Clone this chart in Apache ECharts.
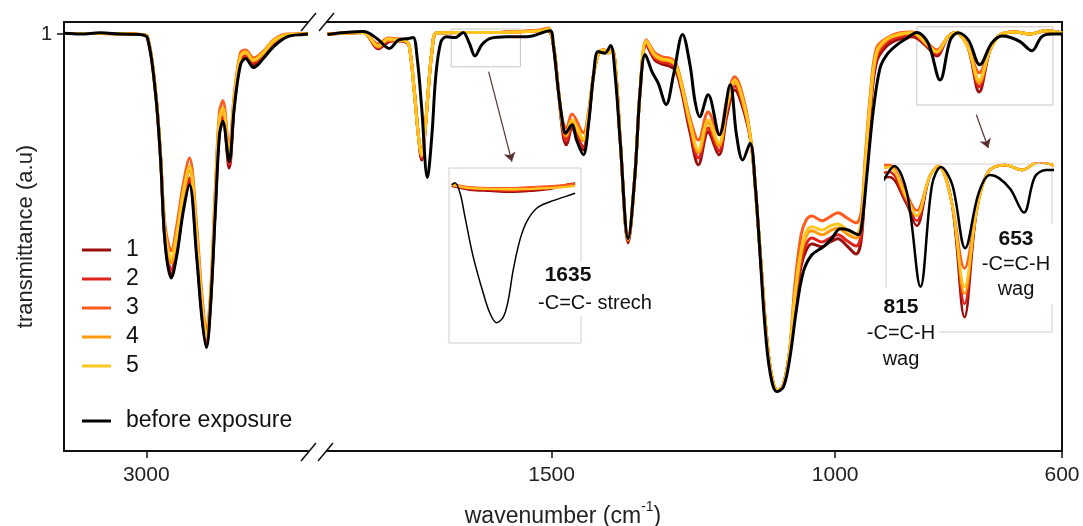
<!DOCTYPE html>
<html><head><meta charset="utf-8">
<script src="https://cdn.jsdelivr.net/npm/echarts@6/dist/echarts.min.js"></script>
<style>html,body{margin:0;padding:0;background:#fff}#c{width:1083px;height:526px}</style>
</head><body><div id="c"></div>
<script>
// ---------- DATA ----------
const seriesNames = ['1','2','3','4','5','before exposure'];
const seriesColors = ['#9a0e0e','#e0241b','#ff5b1c','#ff9a0a','#ffc61e','#000000'];
const xTicksLeft = [3000];
const xTicksRight = [1500, 1000, 600];
const yTicks = [1];

// left panel (C-H stretch region), exposed samples share wavenumbers
const wnColL = [3145,3081,3011,2998,2984,2975,2967,2956,2946,2935,2924,2911,2902,2894,2887,2878,2871,2865,2854,2845,2834,2825,2811,2793,2776,2752,2723,2715];
const t1L = [1.001,1.001,.999,.993,.86,.698,.483,.398,.455,.565,.63,.45,.298,.223,.32,.578,.758,.785,.665,.82,.93,.94,.923,.943,.97,.995,1.0,1.0];
const t2L = [1.001,1.001,.999,.993,.86,.698,.49,.41,.468,.575,.64,.463,.308,.228,.325,.585,.768,.793,.675,.828,.935,.945,.928,.948,.975,.995,1.0,1.0];
const t3L = [1.001,1.001,.999,.993,.86,.698,.523,.458,.523,.623,.69,.515,.348,.258,.348,.623,.805,.833,.715,.848,.953,.96,.94,.958,.985,1.0,1.0,1.0];
const t4L = [1.001,1.001,.999,.993,.86,.698,.5,.428,.49,.593,.658,.485,.323,.24,.333,.598,.783,.808,.693,.835,.943,.953,.933,.953,.98,.998,1.0,1.0];
const t5L = [1.001,1.001,.999,.993,.86,.698,.508,.44,.503,.603,.67,.495,.33,.245,.338,.605,.79,.815,.703,.84,.945,.955,.935,.955,.983,.998,1.0,1.0];
const wnBkL = [3145,3116,3081,3046,3011,2998,2984,2975,2967,2956,2946,2935,2924,2911,2902,2894,2887,2878,2871,2865,2854,2845,2834,2825,2811,2793,2776,2752,2723,2715];
const tBkL = [1.002,1.0,1.003,1.0,.999,.99,.855,.69,.48,.39,.448,.555,.623,.44,.29,.216,.315,.565,.748,.781,.681,.815,.923,.939,.916,.94,.968,.993,.999,1.0];

// right panel (1895-600 cm-1)
const wnColR = [1895,1832,1806,1788,1772,1758,1751,1742,1735,1729,1723,1718,1711,1702,1661,1591,1520,1506,1497,1488,1480,1474,1464,1444,1435,1426,1416,1407,1400,1393,1386,1379,1365,1353,1344,1333,1318,1305,1293,1282,1272,1256,1241,1224,1205,1191,1177,1159,1147,1138,1131,1122,1113,1102,1092,1081,1071,1060,1051,1041,1023,1009,995,979,963,954,947,938,927,909,886,864,838,821,801,787,766,746,727,709,683,656,630,600];
const t1R = [1.0,1.004,.963,.98,.983,.98,.97,.855,.748,.685,.76,.848,.955,1.003,1.004,1.004,1.008,1.008,.975,.86,.75,.723,.763,.71,.78,.898,.955,.96,.953,.96,.89,.735,.478,.648,.855,.973,.935,.925,.92,.91,.865,.755,.673,.755,.698,.795,.86,.798,.715,.565,.43,.26,.153,.108,.12,.198,.32,.42,.46,.475,.468,.48,.488,.47,.45,.485,.635,.805,.93,.97,.988,.993,.968,.945,.993,1.004,.968,.855,.96,.998,1.005,1.0,1.008,1.003];
const t2R = [1.0,1.004,.965,.983,.983,.98,.97,.855,.748,.69,.76,.848,.955,1.003,1.004,1.004,1.008,1.01,.975,.86,.758,.733,.77,.718,.785,.898,.955,.96,.953,.96,.89,.735,.483,.648,.855,.975,.94,.93,.928,.918,.873,.765,.69,.765,.708,.805,.87,.805,.715,.565,.43,.26,.153,.108,.12,.198,.33,.43,.475,.49,.48,.49,.498,.483,.47,.498,.648,.815,.94,.978,.993,.998,.97,.95,.993,1.004,.968,.868,.96,.998,1.005,1.0,1.008,1.003];
const t3R = [1.0,1.005,.975,.99,.988,.985,.97,.86,.748,.705,.76,.848,.955,1.003,1.004,1.004,1.01,1.015,.975,.86,.78,.765,.8,.753,.805,.898,.955,.96,.953,.96,.89,.735,.49,.648,.855,.985,.953,.943,.94,.93,.885,.79,.735,.805,.748,.835,.893,.823,.715,.565,.43,.26,.153,.108,.12,.198,.373,.498,.535,.545,.533,.543,.553,.54,.528,.555,.69,.848,.965,.99,1.003,1.005,.978,.96,.993,1.004,.968,.903,.96,.998,1.005,1.0,1.008,1.003];
const t4R = [1.0,1.004,.968,.985,.985,.983,.97,.855,.748,.695,.76,.848,.955,1.003,1.004,1.004,1.008,1.01,.975,.86,.765,.745,.78,.733,.793,.898,.955,.96,.953,.96,.89,.735,.485,.648,.855,.98,.945,.935,.933,.923,.878,.775,.703,.778,.72,.815,.88,.81,.715,.565,.43,.26,.153,.108,.12,.198,.34,.45,.495,.508,.498,.508,.515,.5,.49,.52,.665,.828,.95,.985,.998,1.003,.973,.955,.993,1.004,.968,.878,.96,.998,1.005,1.0,1.008,1.003];
const t5R = [1.0,1.004,.97,.988,.985,.983,.97,.855,.748,.698,.76,.848,.955,1.003,1.004,1.004,1.008,1.013,.975,.86,.77,.753,.785,.738,.798,.898,.955,.96,.953,.96,.89,.735,.488,.648,.855,.983,.948,.938,.935,.925,.88,.78,.71,.785,.728,.82,.885,.815,.715,.565,.43,.26,.153,.11,.12,.198,.348,.46,.505,.518,.51,.52,.525,.51,.5,.53,.673,.835,.955,.988,1.0,1.003,.975,.955,.993,1.004,.968,.885,.96,.998,1.005,1.0,1.008,1.003];
const wnBkR = [1895,1832,1808,1786,1770,1752,1744,1737,1729,1719,1711,1704,1695,1685,1670,1656,1645,1635,1623,1608,1579,1544,1503,1497,1488,1479,1476,1464,1456,1444,1435,1426,1418,1406,1396,1388,1379,1365,1353,1344,1335,1323,1312,1298,1285,1269,1256,1247,1239,1224,1204,1185,1174,1163,1150,1141,1132,1124,1115,1103,1091,1080,1068,1056,1041,1021,1006,991,977,959,953,944,933,921,909,891,874,856,836,815,797,783,765,745,724,706,692,674,653,636,618,600];
const tBkR = [.999,1.006,.989,.964,.985,.989,.991,.94,.815,.641,.748,.898,.981,.993,.991,1.004,.977,.945,.973,.989,.993,.993,1.008,.973,.856,.764,.752,.773,.735,.698,.773,.898,.956,.952,.971,.898,.731,.489,.648,.856,.949,.906,.877,.824,.898,.999,.923,.831,.793,.848,.748,.873,.748,.685,.727,.623,.44,.273,.156,.106,.118,.189,.314,.406,.448,.468,.489,.513,.51,.498,.523,.648,.806,.914,.948,.973,.989,1.004,.977,.885,.985,1.003,.985,.923,.977,.995,.992,.981,.958,.993,1.0,1.0];

// inset 1 (1635 band, magnified)
const wnColI = [1658.6,1649.3,1639.2,1629,1618.9,1608.7,1601.1,1596];
const t1I = [1.0024,1.0008,1.0003,.9999,1.0003,1.0012,1.0029,1.0036];
const t2I = [1.0024,1.0012,1.0008,1.0003,1.0008,1.0016,1.0029,1.0033];
const t3I = [1.0033,1.002,1.0016,1.0016,1.002,1.0024,1.0029,1.0033];
const t4I = [1.0029,1.0016,1.0012,1.0008,1.0012,1.0016,1.002,1.0024];
const t5I = [1.0029,1.0016,1.0012,1.0012,1.0012,1.0016,1.002,1.0024];
const wnBkI = [1658.6,1657,1654.4,1651.9,1647.7,1642.6,1639.2,1635.8,1632.4,1629.9,1627.4,1624,1620.6,1615.5,1608.7,1600.3,1596];
const tBkI = [1.0029,1.0038,.9995,.9895,.9727,.9574,.949,.945,.9475,.9546,.9672,.9798,.9874,.9931,.9958,.9982,.9994];

// ---------- BUILD ----------
const pairs = (xs, ys) => xs.map((x, i) => [x, ys[i]]);
const leftData = [pairs(wnColL,t1L),pairs(wnColL,t2L),pairs(wnColL,t3L),pairs(wnColL,t4L),pairs(wnColL,t5L),pairs(wnBkL,tBkL)];
const rightData = [pairs(wnColR,t1R),pairs(wnColR,t2R),pairs(wnColR,t3R),pairs(wnColR,t4R),pairs(wnColR,t5R),pairs(wnBkR,tBkR)];
const insetData = [pairs(wnColI,t1I),pairs(wnColI,t2I),pairs(wnColI,t3I),pairs(wnColI,t4I),pairs(wnColI,t5I),pairs(wnBkI,tBkI)];

const FONT = '"Liberation Sans", Arial, sans-serif';
const NARROW = '"Liberation Sans Narrow", "Liberation Sans", Arial, sans-serif';
const frame = { show: true, onZero: false, lineStyle: { color: '#111', width: 2 } };

function mk(name, color, data, xi, yi, width, extra) {
  return Object.assign({
    name, type: 'line', data, xAxisIndex: xi, yAxisIndex: yi,
    symbol: 'none', showSymbol: false, smooth: 0.35, color,
    lineStyle: { color, width }, emphasis: { disabled: true }, silent: true, z: 3
  }, extra || {});
}

const series = [];
seriesNames.forEach((n, i) => series.push(mk(n, seriesColors[i], leftData[i], 0, 0, 3)));
seriesNames.forEach((n, i) => {
  const extra = i === 0 ? {
    markArea: { silent: true, itemStyle: { color: 'rgba(0,0,0,0)', borderColor: '#cdc3c3', borderWidth: 1 },
      data: [[{ xAxis: 1677, yAxis: 1.0125 }, { xAxis: 1555, yAxis: 0.918 }],
             [{ xAxis: 856, yAxis: 1.018 }, { xAxis: 616, yAxis: 0.8225 }]] },
    markLine: { silent: true, symbol: ['none', 'arrow'], symbolSize: 9, label: { show: false },
      lineStyle: { color: '#5a3232', width: 1.2, type: 'solid' },
      data: [[{ coord: [1611, 0.906] }, { coord: [1570, 0.681] }],
             [{ coord: [751, 0.798] }, { coord: [730, 0.715] }]] }
  } : {};
  series.push(mk(n, seriesColors[i], rightData[i], 2, 1, 3, extra));
});
seriesNames.forEach((n, i) => series.push(mk(n, seriesColors[i], insetData[i], 4, 2, i === 5 ? 1.5 : 2, { z: 6 })));
seriesNames.forEach((n, i) => series.push(mk(n, seriesColors[i], rightData[i], 5, 3, 2.5, { z: 6 })));

const tickLabel = { fontSize: 21, color: '#222', fontFamily: NARROW, margin: 14, formatter: v => String(v) };

const option = {
  animation: false,
  backgroundColor: '#fff',
  grid: [
    { left: 64, top: 22, width: 244, height: 429 },
    { left: 327, top: 22, width: 735, height: 429 },
    { left: 449, top: 168, width: 132, height: 175, show: true, backgroundColor: '#fff', borderColor: '#d6cbcb', borderWidth: 1, z: 5 },
    { left: 886, top: 164, width: 166, height: 168, show: true, backgroundColor: '#fff', borderColor: '#d6cbcb', borderWidth: 1, z: 5 }
  ],
  xAxis: [
    { type: 'value', gridIndex: 0, min: 2715, max: 3145, inverse: true, position: 'bottom', axisLine: frame,
      axisTick: { show: true, length: 7, customValues: xTicksLeft, lineStyle: { color: '#111', width: 1.5 } },
      axisLabel: Object.assign({ customValues: xTicksLeft }, tickLabel), splitLine: { show: false } },
    { type: 'value', gridIndex: 0, min: 2715, max: 3145, inverse: true, position: 'top', axisLine: frame,
      axisTick: { show: false }, axisLabel: { show: false }, splitLine: { show: false } },
    { type: 'value', gridIndex: 1, min: 600, max: 1896, inverse: true, position: 'bottom', axisLine: frame,
      axisTick: { show: true, length: 7, customValues: xTicksRight, lineStyle: { color: '#111', width: 1.5 } },
      axisLabel: Object.assign({ customValues: xTicksRight }, tickLabel), splitLine: { show: false } },
    { type: 'value', gridIndex: 1, min: 600, max: 1896, inverse: true, position: 'top', axisLine: frame,
      axisTick: { show: false }, axisLabel: { show: false }, splitLine: { show: false } },
    { type: 'value', gridIndex: 2, min: 1593, max: 1660, inverse: true, show: false },
    { type: 'value', gridIndex: 3, min: 609, max: 869, inverse: true, show: false }
  ],
  yAxis: [
    { type: 'value', gridIndex: 0, min: -0.0425, max: 1.03, position: 'left', axisLine: frame,
      axisTick: { show: true, length: 7, customValues: yTicks, lineStyle: { color: '#111', width: 1.5 } },
      axisLabel: { customValues: yTicks, fontSize: 20, color: '#222', fontFamily: FONT, margin: 12 },
      splitLine: { show: false },
      name: 'transmittance (a.u)', nameLocation: 'middle', nameGap: 23,
      nameTextStyle: { fontSize: 22, color: '#222', fontFamily: FONT } },
    { type: 'value', gridIndex: 1, min: -0.0425, max: 1.03, position: 'right', axisLine: frame,
      axisTick: { show: false }, axisLabel: { show: false }, splitLine: { show: false } },
    { type: 'value', gridIndex: 2, min: 0.9365, max: 1.01, show: false },
    { type: 'value', gridIndex: 3, min: 0.8404, max: 1.0059, show: false }
  ],
  legend: [
    { data: seriesNames.slice(0, 5), orient: 'vertical', left: 77, top: 233, icon: 'rect', itemWidth: 29, itemHeight: 3,
      itemGap: 5, selectedMode: false, textStyle: { fontSize: 23, lineHeight: 24, color: '#111', fontFamily: FONT, padding: [0, 0, 0, 10] } },
    { data: ['before exposure'], orient: 'vertical', left: 77, top: 404, icon: 'rect', itemWidth: 29, itemHeight: 3,
      selectedMode: false, textStyle: { fontSize: 23, lineHeight: 24, color: '#111', fontFamily: FONT, padding: [0, 0, 0, 10] } }
  ],
  graphic: [
    { type: 'text', x: 563, y: 514, z: 100, style: { text: '{n|wavenumber (cm}{s|-1}{n|)}', align: 'center', verticalAlign: 'middle',
      rich: { n: { fontSize: 23, fontFamily: FONT, fill: '#222', lineHeight: 28, verticalAlign: 'bottom' },
              s: { fontSize: 14, fontFamily: FONT, fill: '#222', lineHeight: 28, verticalAlign: 'top' } } } },
    { type: 'text', x: 568, y: 275, z: 100, style: { text: '1635', fontSize: 21, fontWeight: 'bold', fontFamily: FONT, fill: '#111',
      align: 'center', verticalAlign: 'middle', backgroundColor: '#fff', padding: [3, 3] } },
    { type: 'text', x: 595, y: 303, z: 100, style: { text: '-C=C- strech', fontSize: 20, fontFamily: FONT, fill: '#111',
      align: 'center', verticalAlign: 'middle', backgroundColor: '#fff', padding: [3, 3] } },
    { type: 'text', x: 901, y: 333, z: 100, style: { text: '{b|815}\n{n|-C=C-H}\n{n|wag}', align: 'center', verticalAlign: 'middle',
      backgroundColor: '#fff', padding: [6, 4],
      rich: { b: { fontSize: 21, fontWeight: 'bold', fontFamily: FONT, fill: '#111', lineHeight: 26, align: 'center' },
              n: { fontSize: 20, fontFamily: FONT, fill: '#111', lineHeight: 26, align: 'center' } } } },
    { type: 'text', x: 1016, y: 264, z: 100, style: { text: '{b|653}\n{n|-C=C-H}\n{n|wag}', align: 'center', verticalAlign: 'middle',
      backgroundColor: '#fff', padding: [3, 3],
      rich: { b: { fontSize: 21, fontWeight: 'bold', fontFamily: FONT, fill: '#111', lineHeight: 25, align: 'center' },
              n: { fontSize: 20, fontFamily: FONT, fill: '#111', lineHeight: 25, align: 'center' } } } },
    // axis-break marks
    { type: 'line', z: 100, shape: { x1: 301, y1: 31, x2: 316, y2: 13 }, style: { stroke: '#111', lineWidth: 1.5 } },
    { type: 'line', z: 100, shape: { x1: 319, y1: 31, x2: 334, y2: 13 }, style: { stroke: '#111', lineWidth: 1.5 } },
    { type: 'line', z: 100, shape: { x1: 301, y1: 461, x2: 316, y2: 443 }, style: { stroke: '#111', lineWidth: 1.5 } },
    { type: 'line', z: 100, shape: { x1: 318, y1: 461, x2: 333, y2: 443 }, style: { stroke: '#111', lineWidth: 1.5 } }
  ],
  series
};
const chart = echarts.init(document.getElementById('c'), null, { renderer: 'canvas' });
chart.setOption(option);
</script></body></html>
